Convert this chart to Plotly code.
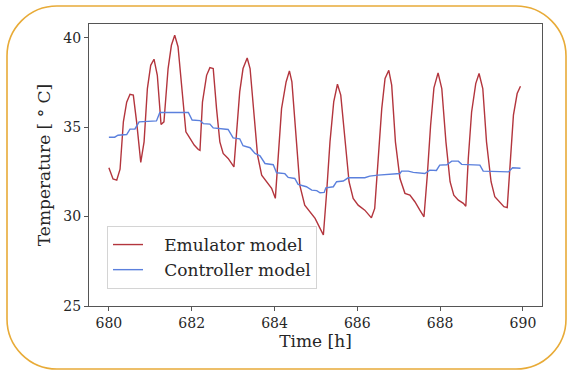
import plotly.graph_objects as go

# Emulator model: zone temperature over time
emu_time = [
    680.00, 680.10, 680.19, 680.27, 680.35, 680.43, 680.51, 680.59, 680.67, 680.77,
    680.85, 680.93, 681.01, 681.09, 681.17, 681.26, 681.33, 681.43, 681.51, 681.59,
    681.67, 681.76, 681.86, 681.96, 682.06, 682.16, 682.20, 682.26, 682.36, 682.44,
    682.52, 682.60, 682.68, 682.76, 682.88, 683.02, 683.08, 683.16, 683.24, 683.34,
    683.41, 683.49, 683.59, 683.69, 683.81, 683.93, 684.02, 684.09, 684.17, 684.28,
    684.36, 684.42, 684.52, 684.61, 684.73, 684.86, 684.98, 685.10, 685.18, 685.26,
    685.34, 685.43, 685.52, 685.60, 685.70, 685.80, 685.90, 686.02, 686.18, 686.34,
    686.42, 686.50, 686.59, 686.67, 686.76, 686.83, 686.92, 687.03, 687.15, 687.27,
    687.39, 687.51, 687.61, 687.69, 687.77, 687.85, 687.95, 688.04, 688.14, 688.24,
    688.33, 688.44, 688.56, 688.62, 688.68, 688.76, 688.86, 688.94, 689.03, 689.12,
    689.23, 689.32, 689.44, 689.54, 689.62, 689.69, 689.77, 689.86, 689.94,
]
emu_temp = [
    32.73, 32.10, 32.04, 32.65, 35.30, 36.40, 36.84, 36.79, 35.30, 33.03,
    34.18, 37.16, 38.46, 38.80, 37.90, 35.15, 35.30, 38.28, 39.58, 40.14,
    39.50, 37.16, 34.74, 34.37, 34.00, 33.75, 33.70, 36.40, 37.90, 38.33,
    38.28, 36.04, 34.18, 33.53, 33.25, 32.78, 34.55, 36.97, 38.28, 38.87,
    38.28, 36.04, 33.44, 32.32, 31.95, 31.58, 31.02, 33.25, 36.04, 37.53,
    38.15, 37.53, 34.55, 31.76, 30.64, 30.27, 29.90, 29.34, 28.97, 31.39,
    34.18, 36.41, 37.40, 36.79, 34.18, 31.95, 31.02, 30.64, 30.36, 29.93,
    30.46, 33.25, 36.04, 37.72, 38.18, 37.35, 34.18, 32.13, 31.30, 31.20,
    30.83, 30.36, 29.99, 32.32, 35.11, 37.20, 38.04, 37.16, 34.18, 31.95,
    31.20, 30.92, 30.74, 30.58, 33.25, 35.85, 37.44, 38.00, 37.16, 34.18,
    31.95, 31.11, 30.83, 30.55, 30.50, 32.70, 35.67, 36.88, 37.29,
]

# Controller model: predicted zone temperature
ctrl_time = [
    680.00, 680.14, 680.22, 680.43, 680.51, 680.63, 680.73, 681.15, 681.23, 681.92,
    682.01, 682.20, 682.28, 682.44, 682.52, 682.88, 683.00, 683.16, 683.24, 683.41,
    683.53, 683.65, 683.77, 683.97, 684.05, 684.25, 684.33, 684.49, 684.57, 684.77,
    684.90, 685.02, 685.10, 685.20, 685.24, 685.42, 685.50, 685.66, 685.78, 686.18,
    686.30, 686.50, 687.03, 687.07, 687.23, 687.35, 687.63, 687.75, 687.91, 687.99,
    688.16, 688.28, 688.44, 688.52, 688.96, 689.04, 689.65, 689.75, 689.94,
]
ctrl_temp = [
    34.44, 34.44, 34.55, 34.59, 34.89, 34.90, 35.30, 35.35, 35.82, 35.82,
    35.40, 35.37, 35.20, 35.17, 34.96, 34.87, 34.40, 34.35, 33.96, 33.85,
    33.53, 33.40, 32.97, 32.90, 32.45, 32.40, 32.19, 32.13, 31.80, 31.67,
    31.48, 31.45, 31.33, 31.35, 31.61, 31.67, 31.95, 31.99, 32.17, 32.17,
    32.26, 32.32, 32.41, 32.54, 32.54, 32.47, 32.41, 32.60, 32.58, 32.88,
    32.90, 33.10, 33.10, 32.92, 32.88, 32.54, 32.50, 32.73, 32.70,
]

x_ticks = [680, 682, 684, 686, 688, 690]
y_ticks = [25, 30, 35, 40]

FONT = "DejaVu Serif"
TEXT = "#262626"
AXIS = "#555555"
PAD = "\u00a0\u00a0\u00a0"  # gap between legend sample line and its label

W, H = 569, 372
M_L, M_R, M_T, M_B = 89, 27, 24, 66
PW, PH = W - M_L - M_R, H - M_T - M_B


def px_to_paper(px, py):
    return (px - M_L) / PW, (H - M_B - py) / PH


def rounded_rect_path(x0, y0, x1, y1, r):
    """Rounded rectangle in pixel space, returned as a paper-space SVG path."""
    k = 0.5523 * r
    pts = [
        ("M", [(x0 + r, y0)]),
        ("L", [(x1 - r, y0)]),
        ("C", [(x1 - r + k, y0), (x1, y0 + r - k), (x1, y0 + r)]),
        ("L", [(x1, y1 - r)]),
        ("C", [(x1, y1 - r + k), (x1 - r + k, y1), (x1 - r, y1)]),
        ("L", [(x0 + r, y1)]),
        ("C", [(x0 + r - k, y1), (x0, y1 - r + k), (x0, y1 - r)]),
        ("L", [(x0, y0 + r)]),
        ("C", [(x0, y0 + r - k), (x0 + r - k, y0), (x0 + r, y0)]),
    ]
    parts = []
    for cmd, coords in pts:
        conv = " ".join("%.5f,%.5f" % px_to_paper(cx, cy) for cx, cy in coords)
        parts.append(cmd + conv)
    return " ".join(parts) + " Z"


fig = go.Figure()
fig.add_trace(go.Scatter(
    x=emu_time, y=emu_temp, mode="lines", name=PAD + "Emulator model",
    line=dict(color="#b3353d", width=1.4),
))
fig.add_trace(go.Scatter(
    x=ctrl_time, y=ctrl_temp, mode="lines", name=PAD + "Controller model",
    line=dict(color="#5b80dd", width=1.4),
))

axis_common = dict(
    showgrid=False, zeroline=False, showline=True, linecolor=AXIS, linewidth=1,
    mirror=True, ticks="outside", ticklen=4, tickcolor=AXIS, tickwidth=1,
    tickfont=dict(family=FONT, size=14, color=TEXT),
)

fig.update_layout(
    width=W, height=H,
    margin=dict(l=M_L, r=M_R, t=M_T, b=M_B),
    paper_bgcolor="white", plot_bgcolor="white",
    font=dict(family=FONT, color=TEXT),
    xaxis=dict(
        range=[679.52, 690.46], tickvals=x_ticks,
        title=dict(text="Time [h]", font=dict(family=FONT, size=17, color=TEXT), standoff=2),
        **axis_common,
    ),
    yaxis=dict(
        range=[25, 40.77], tickvals=y_ticks,
        title=dict(text="Temperature [ ° C]", font=dict(family=FONT, size=17, color=TEXT), standoff=8),
        **axis_common,
    ),
    legend=dict(
        x=px_to_paper(107, 226)[0], y=px_to_paper(107, 226)[1],
        xanchor="left", yanchor="top",
        bgcolor="rgba(255,255,255,0.85)", bordercolor="#d4d4d4", borderwidth=1,
        font=dict(family=FONT, size=17, color=TEXT),
    ),
    showlegend=True,
)

fig.add_shape(
    type="path", xref="paper", yref="paper", layer="above",
    path=rounded_rect_path(7, 6, 566, 369, 50),
    line=dict(color="#e8ab38", width=1.6),
)

fig.write_html("out.html")
